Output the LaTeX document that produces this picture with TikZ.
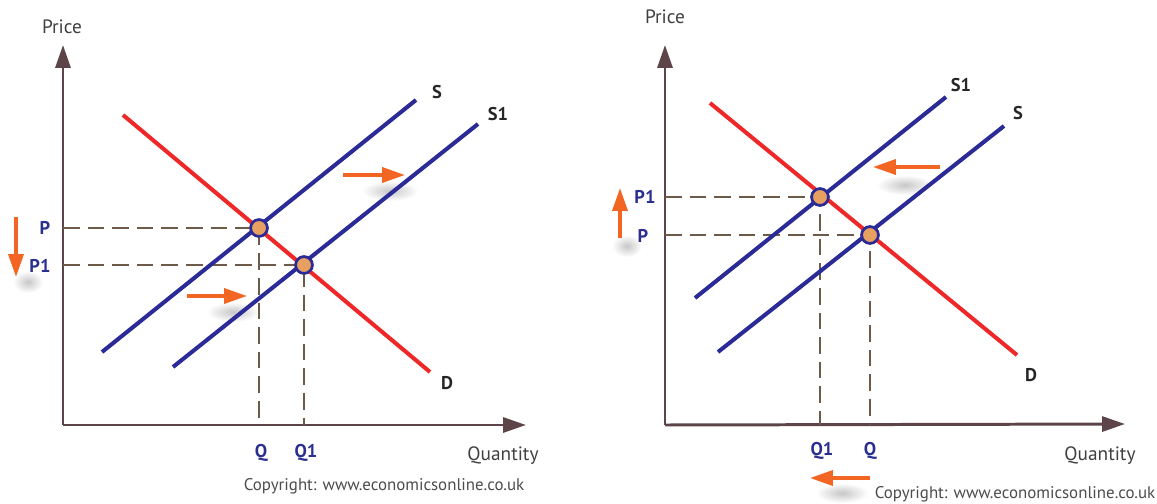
\documentclass[tikz,border=0pt]{standalone}
\usepackage{fontspec}
\setmainfont{PT Sans}
\usetikzlibrary{arrows.meta}
\definecolor{axisc}{HTML}{5C4448}
\definecolor{dashc}{HTML}{6E5A48}
\definecolor{supc}{HTML}{2B2B98}
\definecolor{demc}{HTML}{EE2828}
\definecolor{orc}{HTML}{F26522}
\definecolor{dotc}{HTML}{E8A060}
\definecolor{lblc}{HTML}{2B2F8F}
\tikzset{
  axisline/.style={draw=axisc, line width=1.7pt, -{Triangle[length=13pt,width=8.5pt]}},
  supply/.style={draw=supc, line width=2.3pt},
  demand/.style={draw=demc, line width=2.3pt},
  guide/.style={draw=dashc, line width=0.9pt, dash pattern=on 9.5pt off 4.5pt},
  eqpt/.style={circle, fill=dotc, draw=supc, line width=1.5pt, minimum size=9.5pt, inner sep=0pt},
  movearrow/.style={draw=orc, line width=2pt, -{Triangle[length=13pt,width=8.5pt]}},
  glow/.style={shading=radial, inner color=black!22, outer color=white, draw=none},
  axlbl/.style={text=black!75, font=\fontsize{11}{13}\selectfont},
  pq/.style={text=lblc, font=\bfseries\fontsize{10.5}{12}\selectfont},
  curvelbl/.style={text=black!85, font=\bfseries\fontsize{10.5}{12}\selectfont},
  copytxt/.style={text=black!70, font=\fontsize{9.6}{11}\selectfont},
}
\begin{document}
\begin{tikzpicture}[x=0.02cm, y=-0.02cm]
\useasboundingbox (0,0) rectangle (1157,504);
% ---------------- left chart ----------------
\coordinate (LO) at (63,425);
\coordinate (LYt) at (63,45);
\coordinate (LXt) at (526,425);
\draw[axisline] (LO) -- (LYt);
\draw[axisline] (LO) -- (LXt);
\node[axlbl] (lprice) at (62,27) {Price};
\node[axlbl] (lquant) at (503,456) {Quantity};
% shadows
\shade[glow] (390,191) ellipse (28 and 10);
\shade[glow] (233,312) ellipse (26 and 10);
\shade[glow] (28,282) ellipse (15 and 11);
% curves
\coordinate (LDa) at (123,115); \coordinate (LDb) at (430,372);
\coordinate (LSa) at (102,352); \coordinate (LSb) at (416,100);
\coordinate (LS1a) at (173,367); \coordinate (LS1b) at (478,124);
% guides
\node[eqpt] (LE) at (259,228) {};
\node[eqpt] (LE1) at (304,265) {};
\coordinate (LPy) at (63,228); \coordinate (LP1y) at (63,265);
\coordinate (LQx) at (259,425); \coordinate (LQ1x) at (304,425);
\draw[guide] (LPy) -- (LE.center) -- (LQx);
\draw[guide] (LP1y) -- (LE1.center) -- (LQ1x);
\draw[demand] (LDa) -- (LDb);
\draw[supply] (LSa) -- (LSb);
\draw[supply] (LS1a) -- (LS1b);
\node[eqpt] at (LE) {};
\node[eqpt] at (LE1) {};
\node[curvelbl] (lS) at (437,92) {S};
\node[curvelbl] (lS1) at (498,114) {S1};
\node[curvelbl] (lD) at (447,383) {D};
\node[pq] (lP) at (45,228) {P};
\node[pq] (lP1) at (40,266) {P1};
\node[pq] (lQ) at (261,453) {Q};
\node[pq] (lQ1) at (306,453) {Q1};
% orange arrows
\coordinate (la1) at (343,175); \coordinate (la1e) at (405,175);
\coordinate (la2) at (187,296); \coordinate (la2e) at (247,296);
\coordinate (la3) at (16,217); \coordinate (la3e) at (16,277);
\draw[movearrow] (la1) -- (la1e);
\draw[movearrow] (la2) -- (la2e);
\draw[movearrow] (la3) -- (la3e);
\node[copytxt] (lcopy) at (384,486) {Copyright: www.economicsonline.co.uk};
% ---------------- right chart ----------------
\coordinate (RO) at (665,425);
\coordinate (RYt) at (665,45);
\coordinate (RXt) at (1125,424);
\draw[axisline] (RO) -- (RYt);
\draw[axisline] (RO) -- (RXt);
\node[axlbl] (rprice) at (665,17) {Price};
\node[axlbl] (rquant) at (1100,456) {Quantity};
\shade[glow] (905,185) ellipse (28 and 10);
\shade[glow] (627,246) ellipse (15 and 11);
\shade[glow] (842,493) ellipse (26 and 10);
\coordinate (RDa) at (710,103); \coordinate (RDb) at (1017,355);
\coordinate (RS1a) at (695,298); \coordinate (RS1b) at (946,97);
\coordinate (RSa) at (718,352); \coordinate (RSb) at (1004,126);
\node[eqpt] (RE1) at (820,197) {};
\node[eqpt] (RE) at (870,235) {};
\coordinate (RP1y) at (665,197); \coordinate (RPy) at (665,235);
\coordinate (RQ1x) at (820,425); \coordinate (RQx) at (870,425);
\draw[guide] (RP1y) -- (RE1.center) -- (RQ1x);
\draw[guide] (RPy) -- (RE.center) -- (RQx);
\draw[demand] (RDa) -- (RDb);
\draw[supply] (RS1a) -- (RS1b);
\draw[supply] (RSa) -- (RSb);
\node[eqpt] at (RE1) {};
\node[eqpt] at (RE) {};
\node[curvelbl] (rS1) at (961,85) {S1};
\node[curvelbl] (rS) at (1018,113) {S};
\node[curvelbl] (rD) at (1031,375) {D};
\node[pq] (rP1) at (645,197) {P1};
\node[pq] (rP) at (643,236) {P};
\node[pq] (rQ1) at (822,451) {Q1};
\node[pq] (rQ) at (870,451) {Q};
\coordinate (ra1) at (940,167); \coordinate (ra1e) at (873,167);
\coordinate (ra2) at (620,238); \coordinate (ra2e) at (620,188);
\coordinate (ra3) at (870,478); \coordinate (ra3e) at (810,478);
\draw[movearrow] (ra1) -- (ra1e);
\draw[movearrow] (ra2) -- (ra2e);
\draw[movearrow] (ra3) -- (ra3e);
\node[copytxt] (rcopy) at (1015,494) {Copyright: www.economicsonline.co.uk};
\end{tikzpicture}
\end{document}
